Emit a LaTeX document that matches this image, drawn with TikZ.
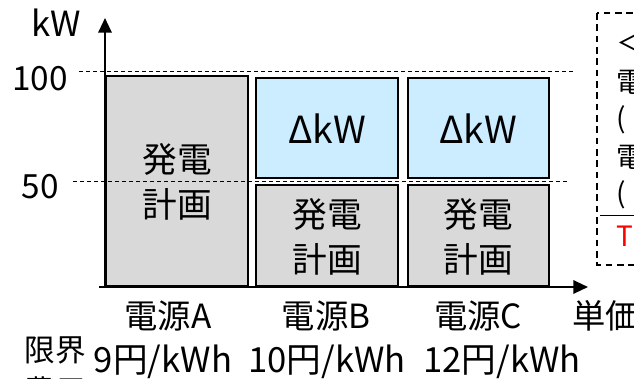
\documentclass[tikz,border=0pt]{standalone}
\usepackage{fontspec}
\setmainfont{Noto Sans CJK JP}
\usetikzlibrary{arrows.meta,fit}
\definecolor{bargray}{RGB}{217,217,217}
\definecolor{barblue}{RGB}{204,236,255}
\definecolor{tsored}{RGB}{255,0,0}
\tikzset{
  barbox/.style={draw=black, line width=1.7pt, inner sep=0pt},
  genbox/.style={barbox, fill=bargray},
  dkwbox/.style={barbox, fill=barblue},
  boxtxt/.style={align=center, inner sep=0pt, font=\fontsize{26}{33.75}\selectfont},
  dkwtxt/.style={inner sep=0pt, font=\fontsize{28}{34}\selectfont},
  axisline/.style={line width=1.6pt, -{Triangle[length=11pt,width=10pt]}},
  levelline/.style={line width=0.75pt, dash pattern=on 3pt off 2.25pt},
  legendbox/.style={line width=1.1pt, dash pattern=on 5pt off 3.5pt},
  lbl/.style={font=\fontsize{25}{30}\selectfont, inner sep=0pt},
  legtxt/.style={font=\fontsize{21}{24}\selectfont, inner sep=0pt, anchor=west}
}
\begin{document}
\begin{tikzpicture}[x=0.75pt,y=-0.75pt]
\useasboundingbox (0,0) rectangle (634,378);
\clip (0,0) rectangle (634,378);
% bars
\node[genbox, fit={(106,76) (248,286)}] (A) {};
\node[dkwbox, fit={(256,78) (398,178)}] (Bd) {};
\node[genbox, fit={(256,185) (398,286)}] (Bg) {};
\node[dkwbox, fit={(408,78) (549,178)}] (Cd) {};
\node[genbox, fit={(408,185) (549,286)}] (Cg) {};
\node[boxtxt] (At) at (177,182) {発電\\計画};
\node[dkwtxt] (Bdt) at (327,129) {ΔkW};
\node[boxtxt] (Bgt) at (327,237) {発電\\計画};
\node[dkwtxt] (Cdt) at (478,129) {ΔkW};
\node[boxtxt] (Cgt) at (478,237) {発電\\計画};
% axes
\coordinate (O) at (105,287);
\coordinate (Ytip) at (105,18);
\coordinate (Xs) at (99,287);
\coordinate (Xtip) at (588,287);
\draw[axisline] (O) -- (Ytip);
\draw[axisline] (Xs) -- (Xtip);
% level lines
\coordinate (L100a) at (79,71.5);
\coordinate (L100b) at (575,71.5);
\coordinate (L50a) at (73,181.5);
\coordinate (L50b) at (568,181.5);
\draw[levelline] (L100a) -- (L100b);
\draw[levelline] (L50a) -- (L50b);
% axis labels
\node[lbl, font=\fontsize{26}{30}\selectfont] (kw) at (56,23) {kW};
\node[lbl] (v100) at (40,79) {100};
\node[lbl] (v50) at (40,187) {50};
\node[lbl, anchor=west] (unit) at (572,316) {単価};
% source labels
\node[lbl] (sA) at (168,316) {電源A};
\node[lbl] (sB) at (326,316) {電源B};
\node[lbl] (sC) at (478,316) {電源C};
\node[lbl, font=\fontsize{26}{30}\selectfont] (pA) at (163,362) {9円/kWh};
\node[lbl, font=\fontsize{26}{30}\selectfont] (pB) at (327,362) {10円/kWh};
\node[lbl, font=\fontsize{26}{30}\selectfont] (pC) at (502,362) {12円/kWh};
\node[lbl, align=center, font=\fontsize{23}{31}\selectfont, anchor=north] (mc) at (55,336) {限界\\費用};
% legend box (cropped at the right edge)
\coordinate (G1) at (597,13);
\coordinate (G2) at (720,265);
\draw[legendbox] (G1) rectangle (G2);
\coordinate (S1) at (600,215);
\coordinate (S2) at (720,215);
\draw[line width=0.75pt] (S1) -- (S2);
\node[legtxt] (g1) at (616,43) {＜};
\node[legtxt] (g2) at (616,82) {電};
\node[legtxt] (g3) at (616,120) {(};
\node[legtxt] (g4) at (616,157) {電};
\node[legtxt] (g5) at (616,195) {(};
\node[legtxt, text=tsored] (g6) at (616,236) {T};
\end{tikzpicture}
\end{document}
